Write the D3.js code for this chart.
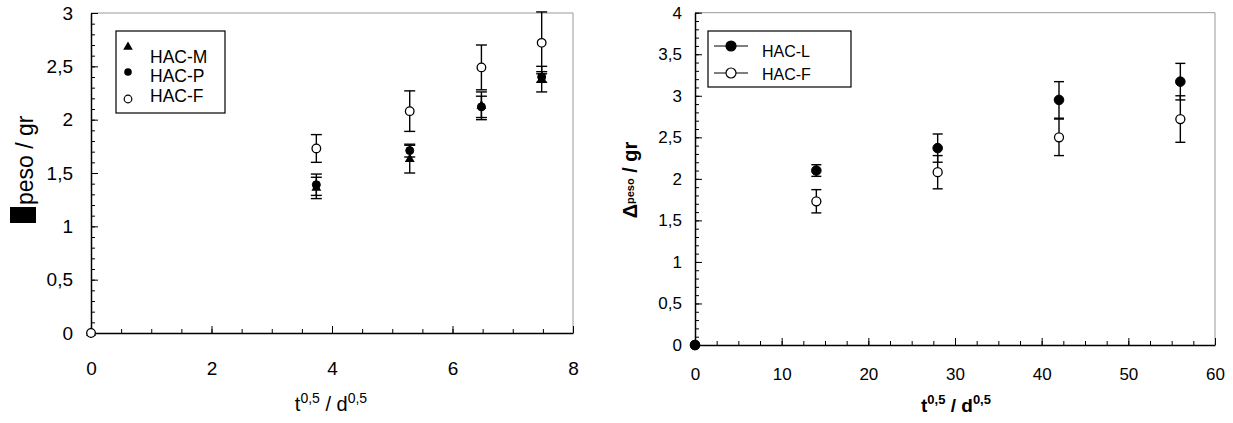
<!DOCTYPE html>
<html>
<head>
<meta charset="utf-8">
<script src="https://cdn.jsdelivr.net/npm/d3@7"></script>
<style>
  body { margin: 0; background: #fff; }
  text { font-family: "Liberation Sans", Arial, sans-serif; fill: #000; }
</style>
</head>
<body>
<div id="chart"></div>
<script>
// Width and height
var w = 1233, h = 423;

// Left panel data (t^0.5 / d^0.5 vs weight gain)
var leftX   = [0, 3.74, 5.29, 6.48, 7.48];
var hacM    = [0, 1.36, 1.63, 2.13, 2.38];
var hacMErr = [0, 0.10, 0.13, 0.13, 0.12];
var hacP    = [0, 1.39, 1.71, 2.12, 2.40];
var hacPErr = [0, 0.10, 0.06, 0.10, 0.05];
var hacF    = [0, 1.73, 2.08, 2.49, 2.72];
var hacFErr = [0, 0.13, 0.19, 0.21, 0.29];

// Right panel data
var rightX   = [0, 14, 28, 42, 56];
var hacL     = [0, 2.10, 2.37, 2.95, 3.17];
var hacLErr  = [0, 0.07, 0.17, 0.22, 0.22];
var hacF2    = [0, 1.73, 2.08, 2.50, 2.72];
var hacF2Err = [0, 0.14, 0.20, 0.22, 0.28];

// Tick values
var leftXTicks  = [0, 2, 4, 6, 8];
var leftXMinor  = d3.range(0, 8.01, 0.5);
var leftYTicks  = [0, 0.5, 1, 1.5, 2, 2.5, 3];
var leftYMinor  = d3.range(0, 3.001, 0.1);
var rightXTicks = [0, 10, 20, 30, 40, 50, 60];
var rightXMinor = d3.range(0, 60.01, 2.5);
var rightYTicks = [0, 0.5, 1, 1.5, 2, 2.5, 3, 3.5, 4];
var rightYMinor = d3.range(0, 4.001, 0.1);

var comma = function(d) { return String(d).replace(".", ","); };

var svg = d3.select("#chart").append("svg")
            .attr("width", w).attr("height", h);

// draws frame + axes for one panel, returns scales
function panel(p) {
  var x = d3.scaleLinear().domain(p.xDomain).range([p.left, p.right]);
  var y = d3.scaleLinear().domain(p.yDomain).range([p.bottom, p.top]);
  var g = svg.append("g");

  // top and right frame (grey)
  g.append("path")
   .attr("d", "M" + p.left + "," + p.top + "H" + p.right + "V" + p.bottom)
   .attr("fill", "none").attr("stroke", "#999").attr("stroke-width", 1);

  // minor ticks
  g.append("g").attr("transform", "translate(0," + p.bottom + ")")
   .call(d3.axisBottom(x).tickValues(p.xMinor).tickFormat("").tickSize(-4).tickSizeOuter(0))
   .call(function(a) { a.select(".domain").remove(); });
  g.append("g").attr("transform", "translate(" + p.left + ",0)")
   .call(d3.axisLeft(y).tickValues(p.yMinor).tickFormat("").tickSize(-4).tickSizeOuter(0))
   .call(function(a) { a.select(".domain").remove(); });

  // major ticks with labels
  var xa = g.append("g").attr("transform", "translate(0," + p.bottom + ")")
   .call(d3.axisBottom(x).tickValues(p.xTicks).tickFormat(comma)
         .tickSize(-7).tickSizeOuter(0).tickPadding(p.xPad));
  var ya = g.append("g").attr("transform", "translate(" + p.left + ",0)")
   .call(d3.axisLeft(y).tickValues(p.yTicks).tickFormat(comma)
         .tickSize(-7).tickSizeOuter(0).tickPadding(p.yPad));

  [xa, ya].forEach(function(a) {
    a.selectAll("text").style("font-size", p.tickFont + "px")
     .style("font-family", "'Liberation Sans', Arial, sans-serif");
    a.select(".domain").attr("stroke-width", 1.5);
    a.selectAll(".tick line").attr("stroke-width", 1);
  });
  g.selectAll(".tick line").attr("stroke", "#000");
  return {x: x, y: y, g: g};
}

function errorBars(sc, xs, ys, es, cap) {
  var d = xs.map(function(v, i) { return {x: v, y: ys[i], e: es[i]}; })
            .filter(function(d) { return d.e > 0; });
  var g = sc.g.append("g").attr("stroke", "#000").attr("stroke-width", 1.4);
  g.selectAll(".v").data(d).enter().append("line")
   .attr("x1", function(d) { return sc.x(d.x); }).attr("x2", function(d) { return sc.x(d.x); })
   .attr("y1", function(d) { return sc.y(d.y - d.e); }).attr("y2", function(d) { return sc.y(d.y + d.e); });
  [-1, 1].forEach(function(s) {
    g.selectAll(".c" + s).data(d).enter().append("line")
     .attr("x1", function(d) { return sc.x(d.x) - cap / 2; })
     .attr("x2", function(d) { return sc.x(d.x) + cap / 2; })
     .attr("y1", function(d) { return sc.y(d.y + s * d.e); })
     .attr("y2", function(d) { return sc.y(d.y + s * d.e); });
  });
}

function circles(sc, xs, ys, r, open) {
  sc.g.append("g").selectAll("circle")
    .data(xs.map(function(v, i) { return [v, ys[i]]; }))
    .enter().append("circle")
    .attr("cx", function(d) { return sc.x(d[0]); })
    .attr("cy", function(d) { return sc.y(d[1]); })
    .attr("r", r)
    .attr("fill", open ? "#fff" : "#000")
    .attr("stroke", "#000").attr("stroke-width", open ? 1.3 : 1);
}

function triangles(sc, xs, ys, size) {
  sc.g.append("g").selectAll("path")
    .data(xs.map(function(v, i) { return [v, ys[i]]; }))
    .enter().append("path")
    .attr("d", d3.symbol(d3.symbolTriangle, size))
    .attr("transform", function(d) { return "translate(" + sc.x(d[0]) + "," + sc.y(d[1]) + ")"; })
    .attr("fill", "#000");
}

/* Left chart */
var L = panel({
  left: 91, right: 573, top: 13, bottom: 333,
  xDomain: [0, 8], yDomain: [0, 3],
  xTicks: leftXTicks, xMinor: leftXMinor, yTicks: leftYTicks, yMinor: leftYMinor,
  xPad: 29, yPad: 18, tickFont: 19
});

errorBars(L, leftX, hacM, hacMErr, 11);
errorBars(L, leftX, hacP, hacPErr, 11);
errorBars(L, leftX, hacF, hacFErr, 11);
triangles(L, leftX, hacM, 42);
circles(L, leftX, hacP, 4, false);
circles(L, leftX, hacF, 4.3, true);

// legend
var lg = svg.append("g");
lg.append("rect").attr("x", 116).attr("y", 31).attr("width", 109).attr("height", 82)
  .attr("fill", "#fff").attr("stroke", "#000").attr("stroke-width", 1.2);
lg.append("path").attr("d", d3.symbol(d3.symbolTriangle, 40))
  .attr("transform", "translate(128,47)").attr("fill", "#000");
lg.append("circle").attr("cx", 128).attr("cy", 72).attr("r", 3.8).attr("fill", "#000");
lg.append("circle").attr("cx", 128).attr("cy", 99).attr("r", 3.8)
  .attr("fill", "#fff").attr("stroke", "#000").attr("stroke-width", 1.2);
[["HAC-M", 63], ["HAC-P", 82], ["HAC-F", 102]].forEach(function(t) {
  lg.append("text").attr("x", 150).attr("y", t[1]).style("font-size", "17.5px").text(t[0]);
});

// axis titles
var lx = svg.append("text").attr("x", 331).attr("y", 411)
  .attr("text-anchor", "middle").style("font-size", "20px");
lx.append("tspan").text("t");
lx.append("tspan").attr("dy", -8).style("font-size", "14px").text("0,5");
lx.append("tspan").attr("dy", 8).text(" / d");
lx.append("tspan").attr("dy", -8).style("font-size", "14px").text("0,5");

// y title (the delta glyph shows as a missing-glyph box in the original)
var lyX = 33, lyY = 205;
svg.append("rect").attr("x", lyX - 23).attr("y", lyY + 2).attr("width", 26).attr("height", 16)
  .attr("fill", "#000");
svg.append("text").attr("transform", "translate(" + lyX + "," + lyY + ") rotate(-90)")
  .style("font-size", "23px").text("peso / gr");

/* Right chart */
var R = panel({
  left: 695, right: 1215, top: 12.7, bottom: 345,
  xDomain: [0, 60], yDomain: [0, 4],
  xTicks: rightXTicks, xMinor: rightXMinor, yTicks: rightYTicks, yMinor: rightYMinor,
  xPad: 23, yPad: 13, tickFont: 17
});

errorBars(R, rightX, hacF2, hacF2Err, 10);
errorBars(R, rightX, hacL, hacLErr, 10);
circles(R, rightX, hacF2, 4.5, true);
circles(R, rightX, hacL, 4.8, false);

var rg = svg.append("g");
rg.append("rect").attr("x", 708).attr("y", 31).attr("width", 143).attr("height", 56)
  .attr("fill", "#fff").attr("stroke", "#000").attr("stroke-width", 1.2);
[[46, false, "HAC-L", 56.5], [73, true, "HAC-F", 80]].forEach(function(t) {
  rg.append("line").attr("x1", 714).attr("x2", 748).attr("y1", t[0]).attr("y2", t[0])
    .attr("stroke", "#000").attr("stroke-width", 1);
  rg.append("circle").attr("cx", 731).attr("cy", t[0]).attr("r", 5)
    .attr("fill", t[1] ? "#fff" : "#000").attr("stroke", "#000").attr("stroke-width", 1.2);
  rg.append("text").attr("x", 762).attr("y", t[3]).style("font-size", "16px").text(t[2]);
});

var rx = svg.append("text").attr("x", 956).attr("y", 412)
  .attr("text-anchor", "middle").style("font-size", "19px").style("font-weight", "bold");
rx.append("tspan").text("t");
rx.append("tspan").attr("dy", -8).style("font-size", "13px").text("0,5");
rx.append("tspan").attr("dy", 8).text(" / d");
rx.append("tspan").attr("dy", -8).style("font-size", "13px").text("0,5");

var ry = svg.append("text").attr("transform", "translate(637,180) rotate(-90)")
  .attr("text-anchor", "middle").style("font-size", "20px").style("font-weight", "bold");
ry.append("tspan").text("Δ");
ry.append("tspan").attr("dy", -3).style("font-size", "11px").text("peso");
ry.append("tspan").attr("dy", 3).text(" / gr");
</script>
</body>
</html>
